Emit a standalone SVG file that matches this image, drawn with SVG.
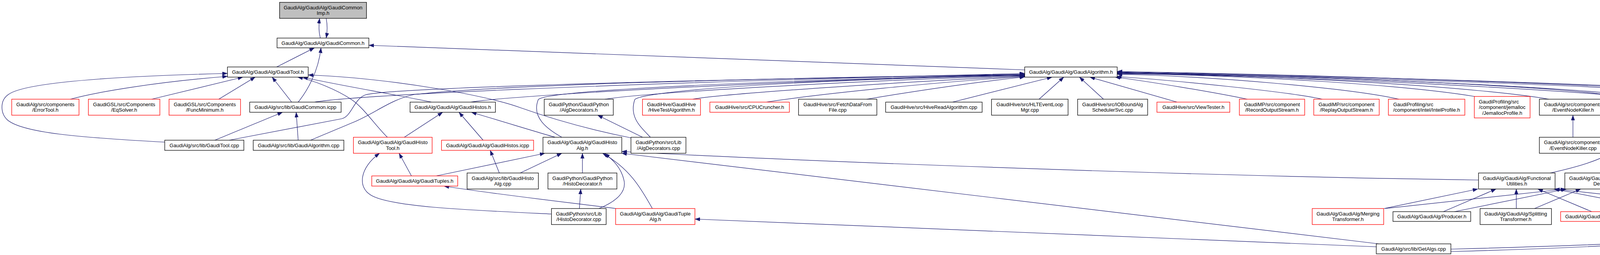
<svg xmlns="http://www.w3.org/2000/svg" width="5479" height="653" viewBox="0 0 5479 653">
<style>
.t{font-family:"Liberation Sans",Arial,Helvetica,sans-serif;font-size:13px;text-anchor:middle;fill:#000}
.l{text-anchor:start}
.b{fill:#fff;stroke:#000;stroke-width:1.3}
.r{fill:#fff;stroke:#f00;stroke-width:1.3}
.g{fill:#bfbfbf;stroke:#000;stroke-width:1.3}
.e{fill:none;stroke:#191970;stroke-width:1.2;marker-end:url(#a)}
</style>
<defs>
<marker id="a" markerUnits="userSpaceOnUse" markerWidth="13" markerHeight="10" refX="13" refY="4.65" orient="auto"><path d="M0,0 L13,4.65 L0,9.3 z" fill="#191970" stroke="#191970" stroke-width="0.5"/></marker>
</defs>
<rect width="5479" height="653" fill="#fff"/>
<g id="edges">
<path class="e" d="M820,97.5 C816,82 816,62 818.3,47"/>
<path class="e" d="M835,47 C838,62 838,82 835,97.5"/>
<path class="e" d="M708.3,171.5 L805,122.5"/>
<path class="e" d="M763.3,261.5 C785,235 815,185 821.7,122.5"/>
<path class="e" d="M746.7,261.5 L696.7,197.5"/>
<path class="e" d="M763.3,359 L758.3,287.5"/>
<path class="e" d="M550,359 L723.3,287.5"/>
<path class="e" d="M421.7,364 C200,352 60,340 20,308 C0,290 0,258 20,243 C60,210 300,195 582.3,188"/>
<path class="e" d="M180,254 C250,235 400,210 582.3,195.5"/>
<path class="e" d="M388.3,254 L621.7,197.5"/>
<path class="e" d="M560,254 L653.3,197.5"/>
<path class="e" d="M586.7,359 L875,304 C900,298 905,255 935,243 C1000,222 2000,200 2623.3,190"/>
<path class="e" d="M805,261.5 C900,245 1500,215 2623.3,188"/>
<path class="e" d="M795,359 L905,313 C960,290 1000,255 1060,242 C1300,215 2000,200 2623.3,191"/>
<path class="e" d="M1205,261.5 C1300,245 2000,205 2623.3,192"/>
<path class="e" d="M1105,261.5 C1000,240 850,215 775,197.5"/>
<path class="e" d="M991.7,351.5 C960,320 930,275 900,255 C860,228 800,205 762,197.5"/>
<path class="e" d="M1615.3,353 C1500,330 1400,300 1330,275 C1250,245 1000,200 789,192"/>
<path class="e" d="M1645,351.5 L1530,295"/>
<path class="e" d="M1665,351.5 C1640,325 1610,300 1625,255 C1640,235 2000,205 2623.3,193"/>
<path class="e" d="M1438.3,351.5 C1400,330 1360,300 1378,255 C1400,230 2000,205 2623.3,191"/>
<path class="e" d="M1421.7,351.5 C1380,340 1300,315 1206.7,287.5"/>
<path class="e" d="M1548.3,254 C1650,238 2200,205 2623.3,194"/>
<path class="e" d="M1773.3,254 C1850,240 2300,210 2623.3,195"/>
<path class="e" d="M1961.7,261.5 C2100,240 2400,210 2623.3,196"/>
<path class="e" d="M2218.3,254 C2350,232 2500,210 2623.3,197"/>
<path class="e" d="M2438.3,261.5 L2693.3,197.5"/>
<path class="e" d="M2660,254 L2723.3,197.5"/>
<path class="e" d="M2825,254 L2763.3,197.5"/>
<path class="e" d="M3013.3,261.5 L2790,197.5"/>
<path class="e" d="M3193.3,254 C3100,235 2950,210 2855,197.5"/>
<path class="e" d="M3385,254 C3300,235 3000,205 2858,196"/>
<path class="e" d="M3581.7,254 C3450,225 3100,195 2860,190"/>
<path class="e" d="M3775,247 C3600,218 3200,192 2860,189"/>
<path class="e" d="M3965,254 C3800,225 3300,192 2860,188"/>
<path class="e" d="M4296.7,261.5 C4150,238 3500,200 2860,187"/>
<path class="e" d="M4538.3,351.5 C4520,300 4490,255 4440,245 C4200,222 3400,195 2860,186"/>
<path class="e" d="M4795,261.5 C4650,240 3600,195 2860,183"/>
<path class="e" d="M3714.3,638 C4200,625 4600,610 4660,560 C4680,520 4680,380 4672,350 C4660,300 4620,255 4500,240 C4200,215 3300,192 2860,184"/>
<path class="e" d="M3968.3,443 C4050,425 4110,405 4130,385 C4165,350 4160,270 4120,245 C4050,225 3400,195 2860,185"/>
<path class="e" d="M4123.3,443 C4150,420 4165,400 4165,360 C4165,300 4168,250 4150,243 C4050,225 3400,195 2860,186"/>
<path class="e" d="M2623.3,179 L944.3,116"/>
<path class="e" d="M1035,351.5 L1133.3,287.5"/>
<path class="e" d="M1236.7,359 L1175,287.5"/>
<path class="e" d="M1053.3,450.5 L1021.7,392.5"/>
<path class="e" d="M1278.3,443 L1255,385"/>
<path class="e" d="M1116.7,450.5 L1395,392.5"/>
<path class="e" d="M1331.7,443 L1438.3,392.5"/>
<path class="e" d="M1411.7,548 C1200,538 1000,530 950,500 C915,480 920,430 971.7,392.5"/>
<path class="e" d="M1576.7,534 C1450,518 1250,495 1136.7,476.5"/>
<path class="e" d="M1491,443 L1491,392.5"/>
<path class="e" d="M1483.3,534 L1486.7,484"/>
<path class="e" d="M1533.3,534 C1580,515 1605,490 1597,460 C1590,430 1570,410 1548,393"/>
<path class="e" d="M1670,534 C1640,480 1610,430 1543,393"/>
<path class="e" d="M3785,461 C3000,450 2000,410 1591.7,388"/>
<path class="e" d="M3530,624.5 L1591.7,392.5"/>
<path class="e" d="M3523.3,632 L1779,561"/>
<path class="e" d="M3543.3,534 L3783.3,484"/>
<path class="e" d="M3545,534 L4008,484"/>
<path class="e" d="M3695,542 L3830,484"/>
<path class="e" d="M3723.3,542 L4010,484"/>
<path class="e" d="M3881.7,534 L3881.7,484"/>
<path class="e" d="M3928.3,534 L4046.7,484"/>
<path class="e" d="M4075,542 L3936.7,484"/>
<path class="e" d="M4103.3,542 L4103.3,484"/>
<path class="e" d="M4280,542 L3978,484"/>
<path class="e" d="M4310,542 L4163.3,484"/>
<path class="e" d="M4468.3,537 L3980,484"/>
<path class="e" d="M4470,534 L4200,484"/>
<path class="e" d="M4338.3,359 L4339.3,287.5"/>
<path class="e" d="M4505,351.5 L4375,287.5"/>
<path class="e" d="M4606.7,351.5 L4805,287.5"/>
<path class="e" d="M4875,359 L4858.3,287.5"/>
<path class="e" d="M5061.7,351.5 L4891.7,287.5"/>
<path class="e" d="M5253.3,351.5 L4920,287.5"/>
<path class="e" d="M3714.3,644 C4200,632 4600,600 4690,578 C4740,550 4722,480 4722,420 C4722,360 4760,310 4818,287.5"/>
<path class="e" d="M4026.7,351.5 L4026.7,295"/>
</g>
<g id="n_imp"><rect class="g" x="715.7" y="6" width="222.6" height="41"/><text class="t" x="827" y="23.5">GaudiAlg/GaudiAlg/GaudiCommon</text><text class="t" x="827" y="38">Imp.h</text></g>
<g id="n_common"><rect class="b" x="709.3" y="97.5" width="235" height="25"/><text class="t" x="826.8" y="114.6">GaudiAlg/GaudiAlg/GaudiCommon.h</text></g>
<g id="n_tool"><rect class="b" x="582.3" y="171.5" width="206.7" height="26"/><text class="t" x="685.7" y="189.1">GaudiAlg/GaudiAlg/GaudiTool.h</text></g>
<g id="n_alg"><rect class="b" x="2623.3" y="171.5" width="236.7" height="26"/><text class="t" x="2741.7" y="189.1">GaudiAlg/GaudiAlg/GaudiAlgorithm.h</text></g>
<g id="n_errortool"><rect class="r" x="30" y="254" width="172.3" height="41"/><text class="t" x="116.2" y="271.8">GaudiAlg/src/components</text><text class="t" x="116.2" y="286.4">/ErrorTool.h</text></g>
<g id="n_eqsolver"><rect class="r" x="226.3" y="254" width="183" height="41"/><text class="t" x="317.8" y="271.8">GaudiGSL/src/Components</text><text class="t" x="317.8" y="286.4">/EqSolver.h</text></g>
<g id="n_funcmin"><rect class="r" x="432.7" y="254" width="183" height="41"/><text class="t" x="524.2" y="271.8">GaudiGSL/src/Components</text><text class="t" x="524.2" y="286.4">/FuncMinimum.h</text></g>
<g id="n_commonicpp"><rect class="b" x="639.3" y="261.5" width="234" height="26"/><text class="t" x="756.3" y="279.1">GaudiAlg/src/lib/GaudiCommon.icpp</text></g>
<g id="n_histos"><rect class="b" x="1049.7" y="261.5" width="218.6" height="26"/><text class="t" x="1159" y="279.1">GaudiAlg/GaudiAlg/GaudiHistos.h</text></g>
<g id="n_algdech"><rect class="b" x="1393.3" y="254" width="176.7" height="41"/><text class="t" x="1481.7" y="271.8">GaudiPython/GaudiPython</text><text class="t" x="1481.7" y="286.4">/AlgDecorators.h</text></g>
<g id="n_hivetest"><rect class="r" x="1644.7" y="254" width="148.6" height="41"/><text class="t" x="1719" y="271.8">GaudiHive/GaudiHive</text><text class="t" x="1719" y="286.4">/HiveTestAlgorithm.h</text></g>
<g id="n_cpucr"><rect class="r" x="1817.3" y="261.5" width="203.4" height="26"/><text class="t" x="1919" y="279.1">GaudiHive/src/CPUCruncher.h</text></g>
<g id="n_fetch"><rect class="b" x="2044.3" y="254" width="200.4" height="41"/><text class="t" x="2144.5" y="271.8">GaudiHive/src/FetchDataFrom</text><text class="t" x="2144.5" y="286.4">File.cpp</text></g>
<g id="n_hiveread"><rect class="b" x="2267.3" y="261.5" width="247" height="26"/><text class="t" x="2390.8" y="279.1">GaudiHive/src/HiveReadAlgorithm.cpp</text></g>
<g id="n_hlt"><rect class="b" x="2538.3" y="254" width="196" height="41"/><text class="t" x="2636.3" y="271.8">GaudiHive/src/HLTEventLoop</text><text class="t" x="2636.3" y="286.4">Mgr.cpp</text></g>
<g id="n_iobound"><rect class="b" x="2758.7" y="254" width="179.3" height="41"/><text class="t" x="2848.3" y="271.8">GaudiHive/src/IOBoundAlg</text><text class="t" x="2848.3" y="286.4">SchedulerSvc.cpp</text></g>
<g id="n_viewtester"><rect class="r" x="2961.7" y="261.5" width="186.6" height="26"/><text class="t" x="3055" y="279.1">GaudiHive/src/ViewTester.h</text></g>
<g id="n_record"><rect class="r" x="3172.7" y="254" width="167.3" height="41"/><text class="t" x="3256.3" y="271.8">GaudiMP/src/component</text><text class="t" x="3256.3" y="286.4">/RecordOutputStream.h</text></g>
<g id="n_replay"><rect class="r" x="3363.3" y="254" width="167.4" height="41"/><text class="t" x="3447" y="271.8">GaudiMP/src/component</text><text class="t" x="3447" y="286.4">/ReplayOutputStream.h</text></g>
<g id="n_intel"><rect class="r" x="3554.3" y="254" width="195.7" height="41"/><text class="t l" x="3566.7" y="271.8">GaudiProfiling/src</text><text class="t" x="3652.2" y="286.4">/component/intel/IntelProfile.h</text></g>
<g id="n_jemalloc"><rect class="r" x="3774.3" y="247" width="142.7" height="55"/><text class="t l" x="3785.7" y="264.5">GaudiProfiling/src</text><text class="t" x="3845.7" y="279.1">/component/jemalloc</text><text class="t" x="3845.7" y="293.7">/JemallocProfile.h</text></g>
<g id="n_enkh"><rect class="b" x="3940.7" y="254" width="172.6" height="41"/><text class="t" x="4027" y="271.8">GaudiAlg/src/components</text><text class="t" x="4027" y="286.4">/EventNodeKiller.h</text></g>
<g id="n_prescalerh"><rect class="b" x="4238.7" y="261.5" width="203.3" height="26"/><text class="t" x="4340.3" y="279.1">GaudiAlg/GaudiAlg/Prescaler.h</text></g>
<g id="n_seqh"><rect class="b" x="4732.3" y="261.5" width="242.7" height="26"/><text class="t" x="4853.7" y="279.1">GaudiAlg/GaudiAlg/GaudiSequencer.h</text></g>
<g id="n_toolcpp"><rect class="b" x="421.7" y="359" width="202.6" height="26"/><text class="t" x="523" y="376.6">GaudiAlg/src/lib/GaudiTool.cpp</text></g>
<g id="n_algcpp"><rect class="b" x="648.3" y="359" width="232" height="26"/><text class="t" x="764.3" y="376.6">GaudiAlg/src/lib/GaudiAlgorithm.cpp</text></g>
<g id="n_histotool"><rect class="r" x="904.7" y="351.5" width="201.6" height="41"/><text class="t" x="1005.5" y="369.3">GaudiAlg/GaudiAlg/GaudiHisto</text><text class="t" x="1005.5" y="383.9">Tool.h</text></g>
<g id="n_histosicpp"><rect class="r" x="1130.3" y="359" width="235.7" height="26"/><text class="t" x="1248.2" y="376.6">GaudiAlg/GaudiAlg/GaudiHistos.icpp</text></g>
<g id="n_histoalgh"><rect class="b" x="1390" y="351.5" width="201.7" height="41"/><text class="t" x="1490.8" y="369.3">GaudiAlg/GaudiAlg/GaudiHisto</text><text class="t" x="1490.8" y="383.9">Alg.h</text></g>
<g id="n_algdeccpp"><rect class="b" x="1615.3" y="351.5" width="140.7" height="41"/><text class="t" x="1685.7" y="369.3">GaudiPython/src/Lib</text><text class="t" x="1685.7" y="383.9">/AlgDecorators.cpp</text></g>
<g id="n_enkcpp"><rect class="b" x="3940.7" y="351.5" width="172.6" height="41"/><text class="t" x="4027" y="369.3">GaudiAlg/src/components</text><text class="t" x="4027" y="383.9">/EventNodeKiller.cpp</text></g>
<g id="n_prescalercpp"><rect class="b" x="4238.3" y="359" width="199" height="26"/><text class="t" x="4337.8" y="376.6">GaudiAlg/src/lib/Prescaler.cpp</text></g>
<g id="n_entries"><rect class="b" x="4461" y="351.5" width="172.3" height="41"/><text class="t" x="4547.2" y="369.3">GaudiAlg/src/components</text><text class="t" x="4547.2" y="383.9">/GaudiAlg_entries.cpp</text></g>
<g id="n_seqcpp"><rect class="b" x="4759.3" y="359" width="239" height="26"/><text class="t" x="4878.8" y="376.6">GaudiAlg/src/lib/GaudiSequencer.cpp</text></g>
<g id="n_pool"><rect class="b" x="5022.7" y="351.5" width="184.6" height="41"/><text class="t" x="5115" y="369.3">GaudiHive/src/AlgResource</text><text class="t" x="5115" y="383.9">Pool.cpp</text></g>
<g id="n_google"><rect class="b" x="5230.7" y="351.5" width="243" height="41"/><text class="t l" x="5242.3" y="369.3">GaudiProfiling/src</text><text class="t" x="5352.2" y="383.9">/component/google/GoogleAuditor.cpp</text></g>
<g id="n_tuples"><rect class="r" x="951.7" y="450.5" width="220" height="26"/><text class="t" x="1061.7" y="468.1">GaudiAlg/GaudiAlg/GaudiTuples.h</text></g>
<g id="n_histoalgcpp"><rect class="b" x="1195.7" y="443" width="182.6" height="41"/><text class="t" x="1287" y="460.8">GaudiAlg/src/lib/GaudiHisto</text><text class="t" x="1287" y="475.4">Alg.cpp</text></g>
<g id="n_histodech"><rect class="b" x="1402.7" y="443" width="176.6" height="41"/><text class="t" x="1491" y="460.8">GaudiPython/GaudiPython</text><text class="t" x="1491" y="475.4">/HistoDecorator.h</text></g>
<g id="n_futil"><rect class="b" x="3785" y="443" width="196" height="41"/><text class="t" x="3883" y="460.8">GaudiAlg/GaudiAlg/Functional</text><text class="t" x="3883" y="475.4">Utilities.h</text></g>
<g id="n_fdet"><rect class="b" x="4006" y="443" width="196.3" height="41"/><text class="t" x="4104.2" y="460.8">GaudiAlg/GaudiAlg/Functional</text><text class="t" x="4104.2" y="475.4">Details.h</text></g>
<g id="n_histodeccpp"><rect class="b" x="1411.7" y="534" width="140" height="41"/><text class="t" x="1481.7" y="551.8">GaudiPython/src/Lib</text><text class="t" x="1481.7" y="566.4">/HistoDecorator.cpp</text></g>
<g id="n_tuplealg"><rect class="r" x="1576" y="534" width="203" height="41"/><text class="t" x="1677.5" y="551.8">GaudiAlg/GaudiAlg/GaudiTuple</text><text class="t" x="1677.5" y="566.4">Alg.h</text></g>
<g id="n_merging"><rect class="r" x="3359.3" y="534" width="183" height="41"/><text class="t" x="3450.8" y="551.8">GaudiAlg/GaudiAlg/Merging</text><text class="t" x="3450.8" y="566.4">Transformer.h</text></g>
<g id="n_producer"><rect class="b" x="3566" y="542" width="199" height="25"/><text class="t" x="3665.5" y="559.1">GaudiAlg/GaudiAlg/Producer.h</text></g>
<g id="n_splitting"><rect class="b" x="3789" y="534" width="182.7" height="41"/><text class="t" x="3880.3" y="551.8">GaudiAlg/GaudiAlg/Splitting</text><text class="t" x="3880.3" y="566.4">Transformer.h</text></g>
<g id="n_transformer"><rect class="r" x="3995.3" y="542" width="217.7" height="25"/><text class="t" x="4104.2" y="559.1">GaudiAlg/GaudiAlg/Transformer.h</text></g>
<g id="n_consumer"><rect class="b" x="4236.7" y="542" width="207.3" height="25"/><text class="t" x="4340.3" y="559.1">GaudiAlg/GaudiAlg/Consumer.h</text></g>
<g id="n_filter"><rect class="b" x="4468.3" y="534" width="165.7" height="41"/><text class="t" x="4551.2" y="551.8">GaudiAlg/GaudiAlg/Filter</text><text class="t" x="4551.2" y="566.4">Predicate.h</text></g>
<g id="n_getalgs"><rect class="b" x="3523.3" y="624.5" width="191" height="25.5"/><text class="t" x="3618.8" y="641.8">GaudiAlg/src/lib/GetAlgs.cpp</text></g>
</svg>
